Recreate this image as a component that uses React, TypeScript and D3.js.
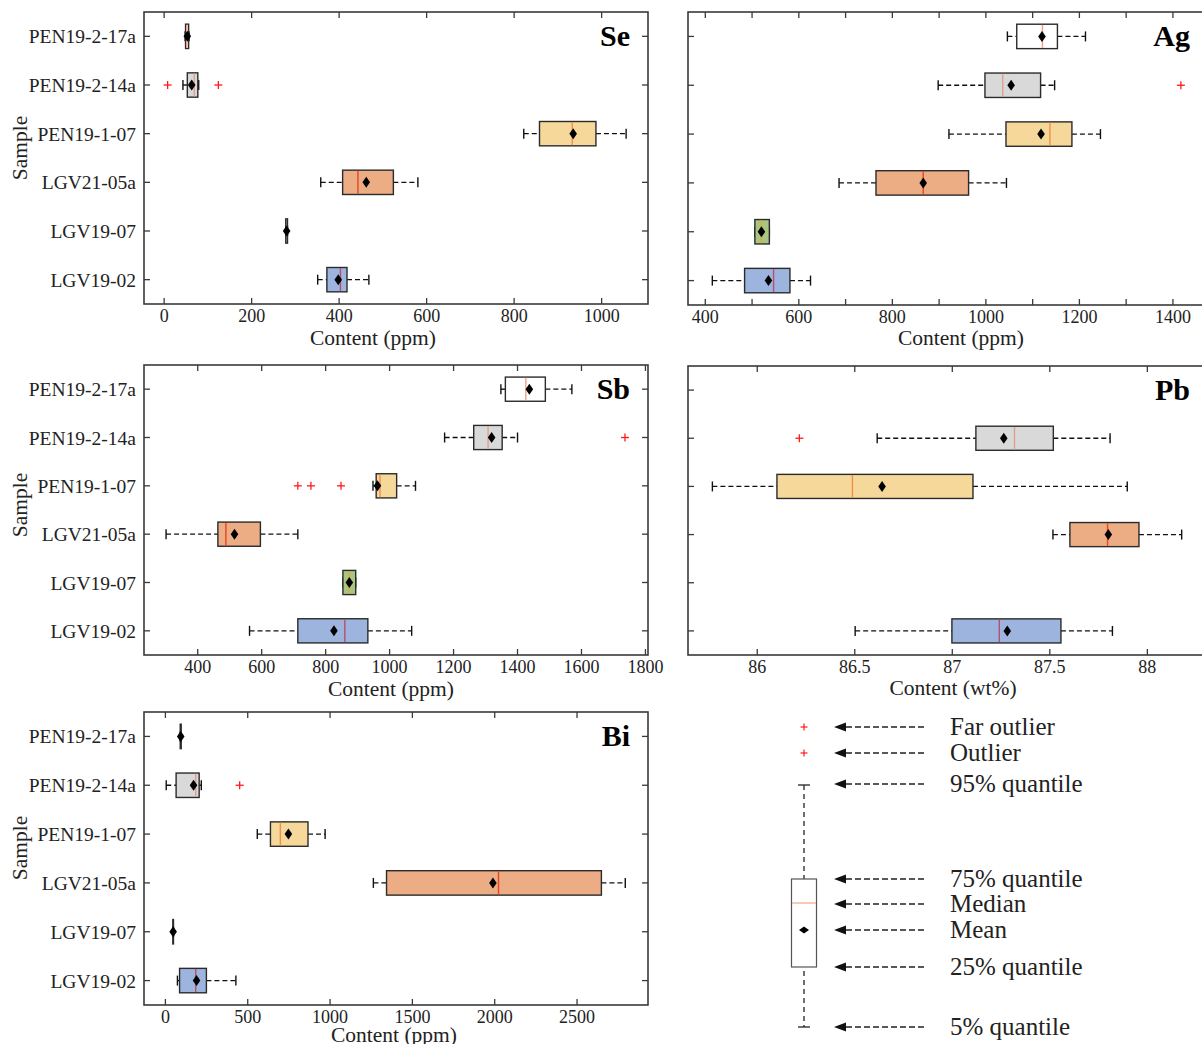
import React from "react";
import * as d3 from "d3";

const samples = ["PEN19-2-17a", "PEN19-2-14a", "PEN19-1-07", "LGV21-05a", "LGV19-07", "LGV19-02"];

// each row: [5% quantile, 25% quantile, median, 75% quantile, 95% quantile, mean]
const seStats = [
  [48, 49, 52, 56, 57, 53],
  [43, 53, 69, 77, 79, 63],
  [822, 858, 933, 987, 1056, 935],
  [358, 408, 443, 524, 580, 462],
  [278, 278, 280, 282, 282, 280],
  [351, 372, 403, 418, 468, 398],
];
const seOutliers = [[1, 8], [1, 124]];
const seTicks = [0, 200, 400, 600, 800, 1000];

const agStats = [
  [1046, 1066, 1121, 1153, 1213, 1120],
  [898, 998, 1036, 1117, 1147, 1054],
  [921, 1043, 1137, 1184, 1245, 1118],
  [686, 765, 866, 963, 1044, 866],
  [506, 506, 520, 537, 537, 520],
  [415, 484, 546, 581, 625, 535],
];
const agOutliers = [[1, 1417]];
const agTicks = [400, 600, 800, 1000, 1200, 1400];
const agMinorTicks = [500, 700, 900, 1100, 1300];

const sbStats = [
  [1348, 1362, 1426, 1487, 1570, 1437],
  [1172, 1263, 1308, 1352, 1400, 1319],
  [948, 958, 970, 1022, 1081, 962],
  [301, 463, 488, 596, 713, 515],
  [854, 854, 874, 894, 894, 874],
  [562, 713, 860, 932, 1069, 826],
];
const sbOutliers = [[1, 1736], [2, 713], [2, 754], [2, 848]];
const sbTicks = [400, 600, 800, 1000, 1200, 1400, 1600, 1800];

const pbStats = [
  null,
  [86.615, 87.121, 87.319, 87.518, 87.809, 87.264],
  [85.77, 86.101, 86.488, 87.106, 87.897, 86.64],
  [87.516, 87.603, 87.796, 87.957, 88.176, 87.8],
  null,
  [86.502, 86.998, 87.241, 87.557, 87.821, 87.282],
];
const pbOutliers = [[1, 86.216]];
const pbTicks = [86, 86.5, 87, 87.5, 88];

const biStats = [
  [90, 90, 93, 96, 96, 93],
  [5, 65, 184, 205, 218, 171],
  [558, 638, 698, 866, 970, 747],
  [1263, 1343, 2023, 2648, 2793, 1989],
  [45, 45, 47, 49, 49, 47],
  [73, 86, 184, 249, 428, 189],
];
const biOutliers = [[1, 451]];
const biTicks = [0, 500, 1000, 1500, 2000, 2500];

const legendItems = ["Far outlier", "Outlier", "95% quantile", "75% quantile", "Median", "Mean", "25% quantile", "5% quantile"];

const fills = ["#ffffff", "#d9d9d9", "#f6d89b", "#ecad85", "#a9c582", "#9db4df"];
const medianColors = ["#f4a080", "#e0a090", "#f0904a", "#e8461f", "#e8a43a", "#b8506a"];

const FONT = "'Liberation Serif', 'Times New Roman', serif";

type PanelProps = {
  name: string;
  stats: (number[] | null)[];
  outliers: number[][];
  ticks: number[];
  minorTicks?: number[];
  domain: [number, number];
  x0: number; x1: number; y0: number; y1: number;
  showLabels: boolean;
  xLabel: string;
  xLabelX: number;
  xLabelDy: number;
  yLabelY?: number;
};

function Panel(p: PanelProps) {
  const x = d3.scaleLinear().domain(p.domain).range([p.x0, p.x1]);
  const y = d3.scalePoint<string>().domain(samples).range([p.y0, p.y1]).padding(0.5);
  const step = y.step();
  const bh = step * 0.5;
  const capH = 10;
  const tickLen = 6;
  const fmt = (v: number) => String(v);
  const allTicks = [...p.ticks, ...(p.minorTicks || [])];
  return (
    <g>
      {p.stats.map((s, i) => {
        if (!s) return null;
        const cy = y(samples[i])!;
        const [lo, q1, med, q3, hi, mean] = s;
        const w = x(q3) - x(q1);
        return (
          <g key={i}>
            <line x1={x(lo)} x2={x(q1)} y1={cy} y2={cy} stroke="#111" strokeWidth={1.4} strokeDasharray="5,3" />
            <line x1={x(q3)} x2={x(hi)} y1={cy} y2={cy} stroke="#111" strokeWidth={1.4} strokeDasharray="5,3" />
            <line x1={x(lo)} x2={x(lo)} y1={cy - capH / 2} y2={cy + capH / 2} stroke="#111" strokeWidth={1.4} />
            <line x1={x(hi)} x2={x(hi)} y1={cy - capH / 2} y2={cy + capH / 2} stroke="#111" strokeWidth={1.4} />
            <rect x={x(q1)} y={cy - bh / 2} width={Math.max(w, 0.5)} height={bh}
              fill={fills[i]} stroke="#2b2b2b" strokeWidth={1.4} />
            {w > 3 && (
              <line x1={x(med)} x2={x(med)} y1={cy - bh / 2 + 0.7} y2={cy + bh / 2 - 0.7} stroke={medianColors[i]} strokeWidth={1.4} />
            )}
            <path d="M0,-5.5L3.8,0L0,5.5L-3.8,0Z" transform={`translate(${x(mean)},${cy})`} fill="#000" />
          </g>
        );
      })}
      {p.outliers.map(([i, v], k) => {
        const cy = y(samples[i])!;
        const cx = x(v);
        return (
          <g key={"o" + k} stroke="#ff1a1a" strokeWidth={1.3}>
            <line x1={cx - 4} x2={cx + 4} y1={cy} y2={cy} />
            <line x1={cx} x2={cx} y1={cy - 4} y2={cy + 4} />
          </g>
        );
      })}
      <rect x={p.x0} y={p.y0} width={p.x1 - p.x0} height={p.y1 - p.y0} fill="none" stroke="#3a3a3a" strokeWidth={1.6} />
      {allTicks.map((t) => (
        <g key={"t" + t} stroke="#3a3a3a" strokeWidth={1.3}>
          <line x1={x(t)} x2={x(t)} y1={p.y1} y2={p.y1 - tickLen} />
          <line x1={x(t)} x2={x(t)} y1={p.y0} y2={p.y0 + tickLen} />
        </g>
      ))}
      {p.ticks.map((t) => (
        <text key={"l" + t} x={x(t)} y={p.y1 + 18} textAnchor="middle" fontSize={18} fontFamily={FONT} fill="#222">{fmt(t)}</text>
      ))}
      {samples.map((s) => (
        <g key={"y" + s}>
          <line x1={p.x0} x2={p.x0 + tickLen} y1={y(s)} y2={y(s)} stroke="#3a3a3a" strokeWidth={1.3} />
          <line x1={p.x1} x2={p.x1 - tickLen} y1={y(s)} y2={y(s)} stroke="#3a3a3a" strokeWidth={1.3} />
          {p.showLabels && (
            <text x={p.x0 - 8} y={y(s)! + 7} textAnchor="end" fontSize={19.5} fontFamily={FONT} fill="#222">{s}</text>
          )}
        </g>
      ))}
      <text x={p.x1 - 18} y={p.y0 + 34} textAnchor="end" fontSize={30} fontWeight="bold" fontFamily={FONT} fill="#000">{p.name}</text>
      <text x={p.xLabelX} y={p.y1 + p.xLabelDy} textAnchor="middle" fontSize={21.5} fontFamily={FONT} fill="#222">{p.xLabel}</text>
      {p.showLabels && p.yLabelY !== undefined && (
        <text transform={`translate(27,${p.yLabelY}) rotate(-90)`} textAnchor="middle" fontSize={21.5} fontFamily={FONT} fill="#222">Sample</text>
      )}
    </g>
  );
}

function Legend() {
  const rows = [727, 753, 784, 879, 904, 930, 967, 1027];
  const bx = 804;
  const boxTop = 879, boxBot = 967;
  return (
    <g>
      {[0, 1].map((k) => (
        <g key={k} stroke="#ff1a1a" strokeWidth={1.2}>
          <line x1={bx - 3.5} x2={bx + 3.5} y1={rows[k]} y2={rows[k]} />
          <line x1={bx} x2={bx} y1={rows[k] - 3.5} y2={rows[k] + 3.5} />
        </g>
      ))}
      <line x1={bx - 6} x2={bx + 6} y1={785} y2={785} stroke="#222" strokeWidth={1.3} />
      <line x1={bx} x2={bx} y1={785} y2={boxTop} stroke="#222" strokeWidth={1.3} strokeDasharray="5,4" />
      <line x1={bx} x2={bx} y1={boxBot + 4} y2={1027} stroke="#222" strokeWidth={1.3} strokeDasharray="5,4" />
      <line x1={bx - 6} x2={bx + 6} y1={1027} y2={1027} stroke="#222" strokeWidth={1.3} />
      <rect x={791.5} y={boxTop} width={25} height={boxBot - boxTop} fill="#fff" stroke="#555" strokeWidth={1.2} />
      <line x1={792} x2={816} y1={903} y2={903} stroke="#f4a582" strokeWidth={1.2} />
      <path d="M0,-3.5L5,0L0,3.5L-5,0Z" transform={`translate(${bx},930)`} fill="#000" />
      {legendItems.map((t, i) => (
        <g key={t}>
          <path d={`M834,${rows[i]}L846,${rows[i] - 4.5}L846,${rows[i] + 4.5}Z`} fill="#111" />
          <line x1={846} x2={926} y1={rows[i]} y2={rows[i]} stroke="#222" strokeWidth={1.3} strokeDasharray="6,3" />
          <text x={950} y={rows[i] + 8} fontSize={25} fontFamily={FONT} fill="#222">{t}</text>
        </g>
      ))}
    </g>
  );
}

export default function App() {
  return (
    <svg width={1202} height={1044} style={{ position: "absolute", left: 0, top: 0, background: "#fff" }}>
      <rect x={0} y={0} width={1202} height={1044} fill="#fff" />
      <Panel name="Se" stats={seStats} outliers={seOutliers} ticks={seTicks} domain={[-46, 1106]}
        x0={144} x1={648} y0={12} y1={304} showLabels xLabel="Content (ppm)" xLabelX={373} xLabelDy={41} yLabelY={148} />
      <Panel name="Ag" stats={agStats} outliers={agOutliers} ticks={agTicks} minorTicks={agMinorTicks} domain={[363, 1475]}
        x0={688} x1={1208} y0={12} y1={305} showLabels={false} xLabel="Content (ppm)" xLabelX={961} xLabelDy={40} />
      <Panel name="Sb" stats={sbStats} outliers={sbOutliers} ticks={sbTicks} domain={[232, 1808]}
        x0={144} x1={648} y0={365} y1={655} showLabels xLabel="Content (ppm)" xLabelX={391} xLabelDy={41} yLabelY={505} />
      <Panel name="Pb" stats={pbStats} outliers={pbOutliers} ticks={pbTicks} domain={[85.645, 88.311]}
        x0={688} x1={1208} y0={366} y1={655} showLabels={false} xLabel="Content (wt%)" xLabelX={953} xLabelDy={40} />
      <Panel name="Bi" stats={biStats} outliers={biOutliers} ticks={biTicks} domain={[-130, 2931]}
        x0={144} x1={648} y0={712} y1={1005} showLabels xLabel="Content (ppm)" xLabelX={394} xLabelDy={37} yLabelY={848} />
      <Legend />
    </svg>
  );
}
